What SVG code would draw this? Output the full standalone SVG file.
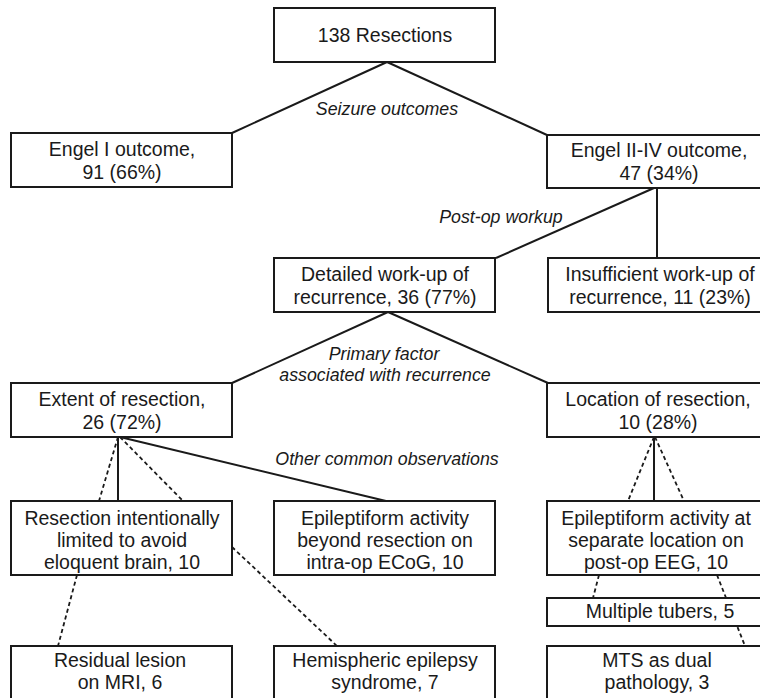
<svg xmlns="http://www.w3.org/2000/svg" width="760" height="698" viewBox="0 0 760 698">
<style>
.box{fill:#fff;stroke:#1a1a1a;stroke-width:2}
.t{font-family:"Liberation Sans",Arial,sans-serif;font-size:19.5px;fill:#1a1a1a;text-anchor:middle}
.i{font-family:"Liberation Sans",Arial,sans-serif;font-size:17.8px;font-style:italic;fill:#1a1a1a;text-anchor:middle}
.s{stroke:#1a1a1a;stroke-width:2;fill:none}
.d{stroke:#1a1a1a;stroke-width:1.8;fill:none;stroke-dasharray:4 3}
</style>
<rect width="760" height="698" fill="#fff"/>
<g id="connectors">
<line class="s" x1="387" y1="62" x2="232" y2="133"/>
<line class="s" x1="387" y1="62" x2="547" y2="135"/>
<line class="s" x1="654" y1="188" x2="496" y2="258"/>
<line class="s" x1="657" y1="188" x2="657" y2="258"/>
<line class="s" x1="388" y1="312" x2="232" y2="383"/>
<line class="s" x1="388" y1="312" x2="548" y2="383"/>
<line class="s" x1="118" y1="437" x2="118" y2="501"/>
<line class="d" x1="118" y1="437" x2="99" y2="501"/>
<line class="d" x1="120" y1="437" x2="183" y2="501"/>
<line class="s" x1="120" y1="437" x2="386" y2="501"/>
<line class="s" x1="654" y1="437" x2="654" y2="501"/>
<line class="d" x1="654" y1="437" x2="628" y2="501"/>
<line class="d" x1="655" y1="437" x2="684" y2="501"/>
<line class="d" x1="77" y1="575" x2="58" y2="646"/>
<line class="d" x1="232" y1="547" x2="337" y2="646"/>
<line class="d" x1="599" y1="575" x2="593" y2="598"/>
<line class="d" x1="717" y1="575" x2="745" y2="646"/>
</g>
<g id="labels">
<text class="i" x="387" y="115">Seizure outcomes</text>
<text class="i" x="501" y="223">Post-op workup</text>
<text class="i" x="384" y="360">Primary factor</text>
<text class="i" x="385" y="381">associated with recurrence</text>
<text class="i" x="387" y="465">Other common observations</text>
</g>
<g id="n-resections"><rect class="box" x="274" y="8" width="221" height="54"/><text class="t" x="385" y="42">138 Resections</text></g>
<g id="n-engel1"><rect class="box" x="11" y="133" width="221" height="54"/><text class="t" x="122" y="156">Engel I outcome,</text><text class="t" x="122" y="179">91 (66%)</text></g>
<g id="n-engel2"><rect class="box" x="547" y="135" width="224" height="53"/><text class="t" x="659" y="157">Engel II-IV outcome,</text><text class="t" x="659" y="180">47 (34%)</text></g>
<g id="n-detailed"><rect class="box" x="274" y="258" width="221" height="54"/><text class="t" x="385" y="281">Detailed work-up of</text><text class="t" x="385" y="304">recurrence, 36 (77%)</text></g>
<g id="n-insufficient"><rect class="box" x="548" y="258" width="223" height="54"/><text class="t" x="660" y="281">Insufficient work-up of</text><text class="t" x="660" y="304">recurrence, 11 (23%)</text></g>
<g id="n-extent"><rect class="box" x="11" y="383" width="221" height="54"/><text class="t" x="122" y="406">Extent of resection,</text><text class="t" x="122" y="429">26 (72%)</text></g>
<g id="n-location"><rect class="box" x="547" y="383" width="224" height="54"/><text class="t" x="658" y="406">Location of resection,</text><text class="t" x="658" y="429">10 (28%)</text></g>
<g id="n-intentional"><rect class="box" x="11" y="501" width="221" height="74"/><text class="t" x="122" y="525">Resection intentionally</text><text class="t" x="122" y="547">limited to avoid</text><text class="t" x="122" y="569">eloquent brain, 10</text></g>
<g id="n-ecog"><rect class="box" x="274" y="501" width="221" height="74"/><text class="t" x="385" y="525">Epileptiform activity</text><text class="t" x="385" y="547">beyond resection on</text><text class="t" x="385" y="569">intra-op ECoG, 10</text></g>
<g id="n-separate"><rect class="box" x="547" y="501" width="224" height="74"/><text class="t" x="656" y="525">Epileptiform activity at</text><text class="t" x="656" y="547">separate location on</text><text class="t" x="656" y="569">post-op EEG, 10</text></g>
<g id="n-tubers"><rect class="box" x="547" y="598" width="224" height="28"/><text class="t" x="660" y="618">Multiple tubers, 5</text></g>
<g id="n-residual"><rect class="box" x="11" y="646" width="221" height="64"/><text class="t" x="120" y="667">Residual lesion</text><text class="t" x="120" y="689">on MRI, 6</text></g>
<g id="n-hemispheric"><rect class="box" x="274" y="646" width="221" height="64"/><text class="t" x="385" y="667">Hemispheric epilepsy</text><text class="t" x="385" y="689">syndrome, 7</text></g>
<g id="n-mts"><rect class="box" x="547" y="646" width="224" height="64"/><text class="t" x="657" y="667">MTS as dual</text><text class="t" x="657" y="689">pathology, 3</text></g>
</svg>
